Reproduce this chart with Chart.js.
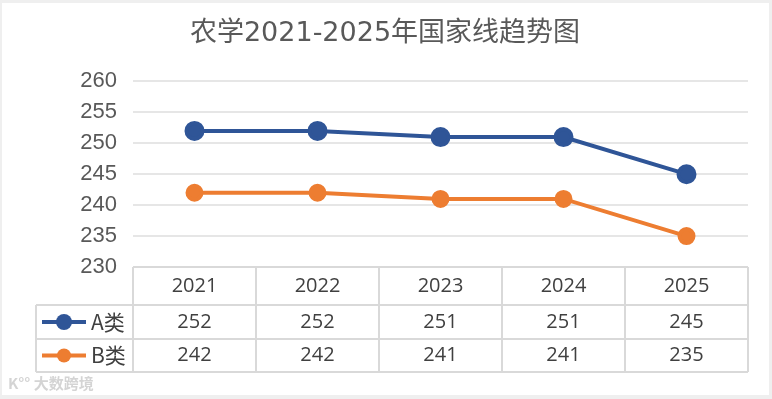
<!DOCTYPE html>
<html>
<head>
<meta charset="utf-8">
<script src="https://cdn.jsdelivr.net/npm/chart.js@4.4.1/dist/chart.umd.min.js"></script>
<style>
    html, body { margin: 0; padding: 0; background: #fff; }
    #wrap { position: relative; width: 772px; height: 399px; }
    #frame {
        position: absolute; left: 0; top: 0; width: 772px; height: 399px;
        box-sizing: border-box; pointer-events: none;
        border-style: solid; border-color: #efefef;
        border-width: 3px 3px 4px 2px;
    }
</style>
</head>
<body>
<div id="wrap">
    <canvas id="trendChart" width="772" height="399"></canvas>
    <div id="frame"></div>
</div>
<script>
const categories = ['2021', '2022', '2023', '2024', '2025'];
const seriesNames = ['A类', 'B类'];
const valuesA = [252, 252, 251, 251, 245];
const valuesB = [242, 242, 241, 241, 235];
const yMin = 230, yMax = 260, yStep = 5;

const blue = '#2F5597';
const orange = '#ED7D31';
const gridColor = '#e6e6e6';
const tableLine = '#d9d9d9';
const textColor = '#595959';

// data table under the plot, laid out from the x scale
const dataTable = {
    id: 'dataTable',
    afterDraw(chart) {
        const ctx = chart.ctx;
        const x = chart.scales.x;
        const area = chart.chartArea;
        const half = (x.getPixelForValue(1) - x.getPixelForValue(0)) / 2;
        const rowTop = area.bottom, rowH = [38, 34, 33];
        const legendLeft = 36;
        const y0 = rowTop, y1 = y0 + rowH[0], y2 = y1 + rowH[1], y3 = y2 + rowH[2];

        ctx.save();
        ctx.strokeStyle = tableLine;
        ctx.lineWidth = 2;
        ctx.beginPath();
        // horizontal lines
        ctx.moveTo(area.left, y0); ctx.lineTo(area.right, y0);
        ctx.moveTo(legendLeft, y1); ctx.lineTo(area.right, y1);
        ctx.moveTo(legendLeft, y2); ctx.lineTo(area.right, y2);
        ctx.moveTo(legendLeft, y3); ctx.lineTo(area.right, y3);
        // vertical lines
        ctx.moveTo(legendLeft, y1); ctx.lineTo(legendLeft, y3);
        for (let i = 0; i <= categories.length; i++) {
            const px = x.getPixelForValue(0) - half + i * 2 * half;
            ctx.moveTo(px, y0); ctx.lineTo(px, y3);
        }
        ctx.stroke();

        ctx.fillStyle = '#404040';
        ctx.font = '20px "Open Sans", "Noto Sans", sans-serif';
        ctx.textAlign = 'center';
        ctx.textBaseline = 'middle';
        categories.forEach((c, i) => {
            const px = x.getPixelForValue(i);
            ctx.fillText(c, px, (y0 + y1) / 2);
            ctx.fillText(String(valuesA[i]), px, (y1 + y2) / 2);
            ctx.fillText(String(valuesB[i]), px, (y2 + y3) / 2);
        });

        // legend keys
        const keys = [[blue, (y1 + y2) / 2, 8], [orange, (y2 + y3) / 2, 7]];
        keys.forEach(([col, cy, r], k) => {
            ctx.strokeStyle = col;
            ctx.lineWidth = 4;
            ctx.beginPath();
            ctx.moveTo(42, cy); ctx.lineTo(86, cy);
            ctx.stroke();
            ctx.fillStyle = col;
            ctx.beginPath();
            ctx.arc(64, cy, r, 0, Math.PI * 2);
            ctx.fill();
            ctx.fillStyle = '#404040';
            ctx.textAlign = 'left';
            ctx.font = '21px "Noto Sans CJK SC", sans-serif';
            ctx.fillText(seriesNames[k], 91, cy);
        });

        // watermark
        ctx.fillStyle = '#d4d4d4';
        ctx.font = 'bold 15px "Noto Sans CJK SC", sans-serif';
        ctx.textAlign = 'left';
        ctx.fillText('K°° 大数跨境', 8, 383);
        ctx.restore();
    }
};

new Chart(document.getElementById('trendChart'), {
    type: 'line',
    data: {
        labels: categories,
        datasets: [
            {
                label: seriesNames[0],
                data: valuesA,
                borderColor: blue,
                backgroundColor: blue,
                borderWidth: 4,
                pointRadius: 8,
                pointBackgroundColor: blue,
                pointBorderColor: blue,
                tension: 0
            },
            {
                label: seriesNames[1],
                data: valuesB,
                borderColor: orange,
                backgroundColor: orange,
                borderWidth: 4,
                pointRadius: 7,
                pointBackgroundColor: orange,
                pointBorderColor: orange,
                tension: 0
            }
        ]
    },
    options: {
        responsive: false,
        animation: false,
        layout: { padding: { left: 22, right: 24, top: 0, bottom: 132 } },
        plugins: {
            legend: { display: false },
            tooltip: { enabled: false },
            title: {
                display: true,
                text: '农学2021-2025年国家线趋势图',
                color: textColor,
                font: { family: '"DejaVu Sans", "Noto Sans CJK SC", sans-serif', size: 27, weight: 'normal' },
                padding: { top: 18, bottom: 31 }
            }
        },
        scales: {
            x: {
                type: 'category',
                display: false,
                offset: true
            },
            y: {
                min: yMin,
                max: yMax,
                ticks: {
                    stepSize: yStep,
                    padding: 16,
                    color: textColor,
                    font: { family: '"Liberation Sans", Arial, sans-serif', size: 22 }
                },
                grid: { color: gridColor, lineWidth: 2, drawTicks: false },
                border: { display: false },
                afterFit(scale) { scale.width = 111; }
            }
        }
    },
    plugins: [dataTable]
});
</script>
</body>
</html>
